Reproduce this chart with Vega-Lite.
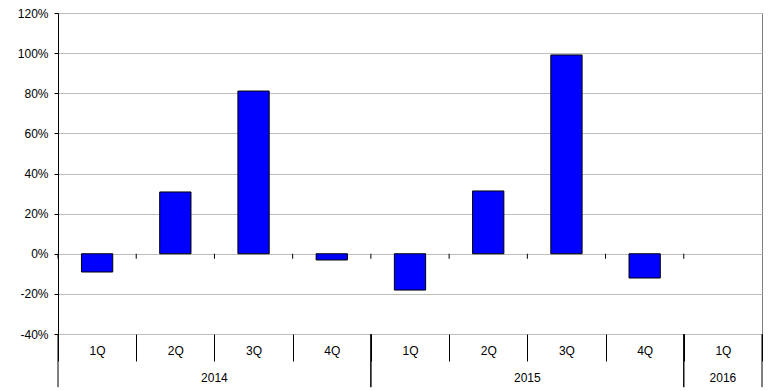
{
  "$schema": "https://vega.github.io/schema/vega-lite/v6.json",
  "autosize": {"type": "none"},
  "width": 704,
  "height": 321,
  "padding": {"left": 58, "top": 13, "right": 11, "bottom": 57},
  "config": {
    "font": "Liberation Sans",
    "view": {"stroke": "#808080", "strokeWidth": 1},
    "axis": {"labelFont": "Liberation Sans", "labelFontSize": 12, "labelColor": "#000000"}
  },
  "datasets": {
    "quarters": [
      {"key": "2014-1Q", "year": "2014", "quarter": "1Q", "value": -9.1},
      {"key": "2014-2Q", "year": "2014", "quarter": "2Q", "value": 30.8},
      {"key": "2014-3Q", "year": "2014", "quarter": "3Q", "value": 81.1},
      {"key": "2014-4Q", "year": "2014", "quarter": "4Q", "value": -3.1},
      {"key": "2015-1Q", "year": "2015", "quarter": "1Q", "value": -18.1},
      {"key": "2015-2Q", "year": "2015", "quarter": "2Q", "value": 31.3},
      {"key": "2015-3Q", "year": "2015", "quarter": "3Q", "value": 99.1},
      {"key": "2015-4Q", "year": "2015", "quarter": "4Q", "value": -12.1},
      {"key": "2016-1Q", "year": "2016", "quarter": "1Q", "value": null}
    ],
    "years": [
      {"year": "2014", "first": "2014-1Q", "last": "2014-4Q", "center": "2014-3Q", "quarters": 4},
      {"year": "2015", "first": "2015-1Q", "last": "2015-4Q", "center": "2015-3Q", "quarters": 4},
      {"year": "2016", "first": "2016-1Q", "last": "2016-1Q", "center": "2016-1Q", "quarters": 1}
    ]
  },
  "layer": [
    {
      "data": {"name": "quarters"},
      "mark": {"type": "bar", "width": {"band": 0.4}, "color": "#0000FF", "stroke": "#000000", "strokeWidth": 1},
      "encoding": {
        "x": {
          "field": "key", "type": "nominal", "sort": null,
          "scale": {"paddingInner": 0, "paddingOuter": 0},
          "axis": {
            "title": null, "domain": false, "grid": false,
            "tickBand": "extent", "tickSize": 27, "tickColor": "#000000", "tickWidth": 1,
            "labelExpr": "split(datum.value, '-')[1]", "labelAngle": 0,
            "labelPadding": -16, "labelBaseline": "top"
          }
        },
        "y": {
          "field": "value", "type": "quantitative",
          "scale": {"domain": [-40, 120], "nice": false, "zero": false},
          "axis": {
            "title": null, "values": [-40, -20, 0, 20, 40, 60, 80, 100, 120],
            "labelExpr": "datum.value + '%'",
            "domainColor": "#000000", "tickColor": "#000000", "tickSize": 4, "labelPadding": 6,
            "gridColor": "#bdbdbd", "gridWidth": 1
          }
        }
      }
    },
    {
      "data": {"name": "quarters"},
      "mark": {"type": "rule", "color": "#000000", "strokeWidth": 1},
      "encoding": {
        "x": {"field": "key", "type": "nominal", "sort": null, "bandPosition": 0},
        "y": {"datum": 0},
        "y2": {"datum": -2.5}
      }
    },
    {
      "mark": {"type": "rule", "color": "#000000", "strokeWidth": 1},
      "encoding": {"y": {"datum": 0}}
    },
    {
      "data": {"name": "years"},
      "mark": {"type": "rule", "color": "#000000", "strokeWidth": 1, "clip": false},
      "encoding": {
        "x": {"field": "first", "type": "nominal", "bandPosition": 0},
        "y": {"datum": -40},
        "y2": {"datum": -66.5}
      }
    },
    {
      "data": {"name": "years"},
      "mark": {"type": "rule", "color": "#000000", "strokeWidth": 1, "clip": false},
      "encoding": {
        "x": {"field": "last", "type": "nominal", "bandPosition": 1},
        "y": {"datum": -40},
        "y2": {"datum": -66.5}
      }
    },
    {
      "data": {"name": "years"},
      "transform": [{"filter": "datum.quarters == 4"}],
      "mark": {"type": "text", "fontSize": 12, "color": "#000000", "baseline": "middle", "align": "center"},
      "encoding": {
        "x": {"field": "center", "type": "nominal", "bandPosition": 0},
        "y": {"datum": -62},
        "text": {"field": "year"}
      }
    },
    {
      "data": {"name": "years"},
      "transform": [{"filter": "datum.quarters == 1"}],
      "mark": {"type": "text", "fontSize": 12, "color": "#000000", "baseline": "middle", "align": "center"},
      "encoding": {
        "x": {"field": "center", "type": "nominal", "bandPosition": 0.5},
        "y": {"datum": -62},
        "text": {"field": "year"}
      }
    }
  ]
}
